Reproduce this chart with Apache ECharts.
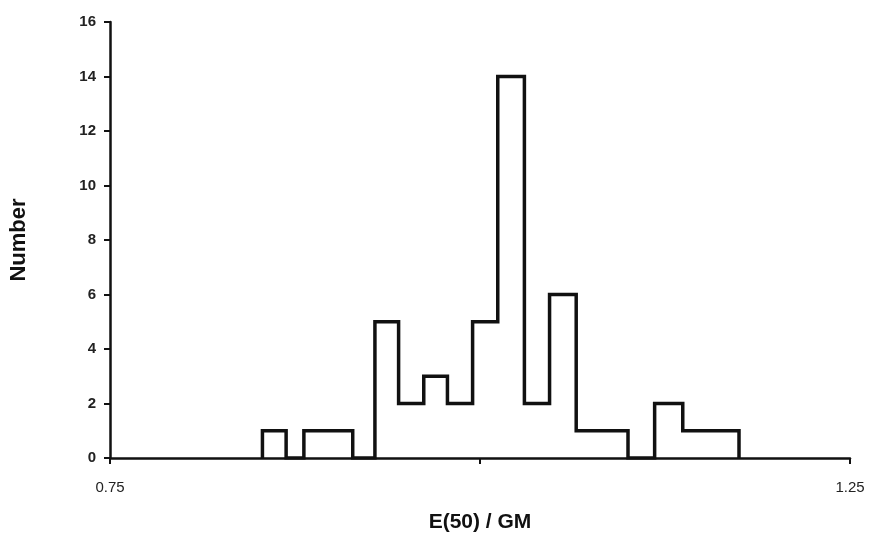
<!DOCTYPE html>
<html>
<head>
<meta charset="utf-8">
<script src="https://cdn.jsdelivr.net/npm/echarts@6/dist/echarts.min.js"></script>
<style>html,body{margin:0;padding:0;background:#fff;}#c{width:871px;height:539px;}</style>
</head>
<body>
<div id="c"></div>
<script>
// Histogram bins (left edge, right edge, count)
var binLeft  = [0.853, 0.881, 0.897, 0.929, 0.945, 0.962, 0.978, 0.995, 1.012, 1.030, 1.047, 1.065, 1.082, 1.118, 1.137, 1.156];
var binRight = [0.869, 0.897, 0.914, 0.945, 0.962, 0.978, 0.995, 1.012, 1.030, 1.047, 1.065, 1.082, 1.100, 1.137, 1.156, 1.175];
var counts   = [1, 1, 1, 5, 2, 3, 2, 5, 14, 2, 6, 1, 1, 2, 1, 1];
var xTickLabels = ['0.75', '1.25'];
var yTicks = [0, 2, 4, 6, 8, 10, 12, 14, 16];

// build histogram outline from bins
var pts = [];
for (var i = 0; i < counts.length; i++) {
  var startsNew = (i === 0) || Math.abs(binLeft[i] - binRight[i - 1]) > 1e-6;
  if (startsNew) pts.push([binLeft[i], 0]);
  pts.push([binLeft[i], counts[i]]);
  pts.push([binRight[i], counts[i]]);
  var endsHere = (i === counts.length - 1) || Math.abs(binLeft[i + 1] - binRight[i]) > 1e-6;
  if (endsHere) { pts.push([binRight[i], 0]); }
}

var chart = echarts.init(document.getElementById('c'), null, {renderer: 'canvas'});
var font = 'Liberation Sans, Arial, sans-serif';
chart.setOption({
  animation: false,
  backgroundColor: '#fff',
  grid: {left: 109, right: 21, top: 22, bottom: 81},
  xAxis: {
    type: 'value', min: 0.75, max: 1.25, interval: 0.25,
    name: 'E(50) / GM', nameLocation: 'middle', nameGap: 54,
    nameTextStyle: {fontFamily: font, fontSize: 21, fontWeight: 'bold', color: '#111'},
    axisLine: {show: true, onZero: false, lineStyle: {color: '#111', width: 2.5}},
    axisTick: {show: true, length: 6, lineStyle: {color: '#111', width: 2}},
    axisLabel: {
      margin: 22, fontFamily: font, fontSize: 15, color: '#222',
      formatter: function (v) {
        var s = v.toFixed(2);
        return xTickLabels.indexOf(s) >= 0 ? s : '';
      }
    },
    splitLine: {show: false}
  },
  yAxis: {
    type: 'value', min: yTicks[0], max: yTicks[yTicks.length - 1], interval: 2,
    name: 'Number', nameLocation: 'middle', nameGap: 80,
    nameTextStyle: {fontFamily: font, fontSize: 22, fontWeight: 'bold', color: '#111'},
    axisLine: {show: true, lineStyle: {color: '#111', width: 2.5}},
    axisTick: {show: true, length: 6, lineStyle: {color: '#111', width: 2}},
    axisLabel: {margin: 14, fontFamily: font, fontSize: 15, fontWeight: 'bold', color: '#222'},
    splitLine: {show: false}
  },
  series: [{
    type: 'line', data: pts, symbol: 'none',
    lineStyle: {color: '#111', width: 3.5, join: 'miter'},
    z: 3
  }]
});
</script>
</body>
</html>
